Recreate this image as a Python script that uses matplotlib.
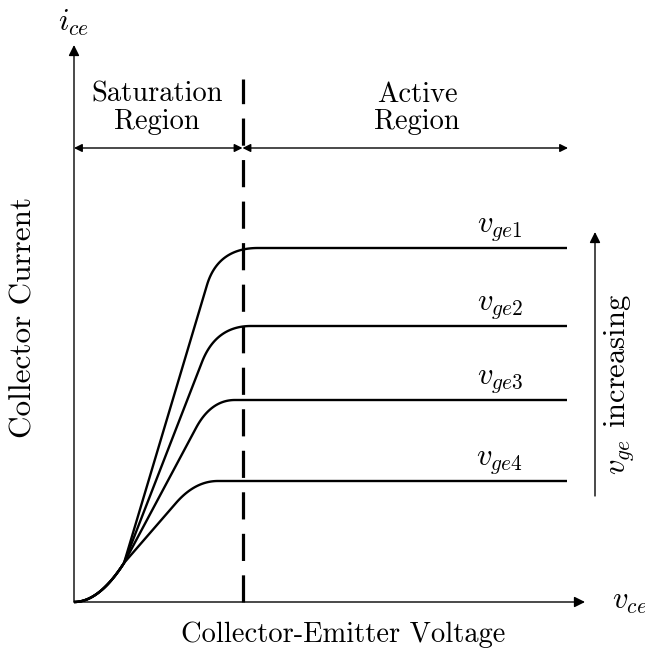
import numpy as np
import matplotlib
matplotlib.use("Agg")
import matplotlib.pyplot as plt

plt.rcParams['mathtext.fontset'] = 'cm'
plt.rcParams['axes.unicode_minus'] = False

# ---- data (arbitrary units: vce, ice) ----
curve_labels = [r"$v_{ge1}$", r"$v_{ge2}$", r"$v_{ge3}$", r"$v_{ge4}$"]
sat_levels = [35.4, 27.6, 20.2, 12.1]          # flat current level per curve
knee_x = [13.3, 12.8, 12.2, 10.2]              # end of linear rise
knee_y = [31.7, 24.0, 17.4, 9.9]
flat_x = [18.4, 17.7, 16.1, 14.4]              # start of flat portion
common_pt = (5.0, 3.9)                          # where curves diverge
vce_end = 49.3
boundary_vce = 16.85                            # saturation/active boundary
x_axis_max = 51.1
y_axis_max = 55.7

TEXT_FONT = 'cmr10'
FS = 20.5
FS_ROT = 22.5
MFS = 22

fig = plt.figure(figsize=(6.45, 6.5), dpi=100)
ax = fig.add_axes([0, 0, 1, 1])
ax.set_xlim(-7.4, 57.1)
ax.set_ylim(-4.8, 60.2)
ax.axis('off')

def curve(level, kx, ky, fx):
    xs, ys = [], []
    cx, cy = common_pt
    a = cy / cx**2
    t = np.linspace(0, cx, 40)
    xs += list(t); ys += list(a * t**2)
    xs += [kx]; ys += [ky]
    slope = (ky - cy) / (kx - cx)
    ctrl_x = kx + (level - ky) / slope
    s = np.linspace(0, 1, 60)
    bx = (1-s)**2*kx + 2*(1-s)*s*ctrl_x + s**2*fx
    by = (1-s)**2*ky + 2*(1-s)*s*level + s**2*level
    xs += list(bx); ys += list(by)
    xs += [vce_end]; ys += [level]
    return np.array(xs), np.array(ys)

for lab, lv, kx, ky, fx in zip(curve_labels, sat_levels, knee_x, knee_y, flat_x):
    x, y = curve(lv, kx, ky, fx)
    ax.plot(x, y, color='black', lw=1.7, solid_capstyle='butt', zorder=3)
    ax.text(42.6, lv + 0.5, lab, fontsize=MFS, ha='center', va='bottom')

# axes arrows
arrow_kw = dict(arrowstyle='-|>', color='black', lw=1.0, mutation_scale=16,
                shrinkA=0, shrinkB=0)
ax.annotate('', xy=(x_axis_max, 0), xytext=(0, 0), arrowprops=arrow_kw)
ax.annotate('', xy=(0, y_axis_max), xytext=(0, 0), arrowprops=arrow_kw)
ax.text(0, 57.9, r"$i_{ce}$", fontsize=MFS, ha='center', va='center')
ax.text(53.8, 0.0, r"$v_{ce}$", fontsize=MFS, ha='left', va='center')

# boundary dashed line
ax.plot([boundary_vce, boundary_vce], [0, 52.3], color='black', lw=2.3,
        dashes=(8.5, 4.5), zorder=4)

# region arrows
reg_kw = dict(arrowstyle='<|-|>', color='black', lw=1.0, mutation_scale=12,
              shrinkA=0, shrinkB=0)
region_y = 45.4
ax.annotate('', xy=(0, region_y), xytext=(boundary_vce, region_y), arrowprops=reg_kw)
ax.annotate('', xy=(49.4, region_y), xytext=(boundary_vce, region_y), arrowprops=reg_kw)
ax.text(8.3, 49.35, "Saturation\nRegion", fontsize=FS, family=TEXT_FONT,
        ha='center', va='center', linespacing=1.05)
ax.text(34.3, 49.35, "Active\nRegion", fontsize=FS, family=TEXT_FONT,
        ha='center', va='center', linespacing=1.05)

# vge increasing arrow
ax.annotate('', xy=(52.1, 37.0), xytext=(52.1, 10.6), arrowprops=arrow_kw)
ax.text(54.5, 21.8, r"$v_{ge}$ increasing", fontsize=22, family=TEXT_FONT,
        rotation=90, ha='center', va='center')

# axis titles
ax.text(-5.0, 28.5, "Collector Current", fontsize=FS_ROT, family=TEXT_FONT,
        rotation=90, ha='center', va='center')
ax.text(26.9, -3.3, "Collector-Emitter Voltage", fontsize=FS, family=TEXT_FONT,
        ha='center', va='center')

fig.savefig("out.png", dpi=100)
